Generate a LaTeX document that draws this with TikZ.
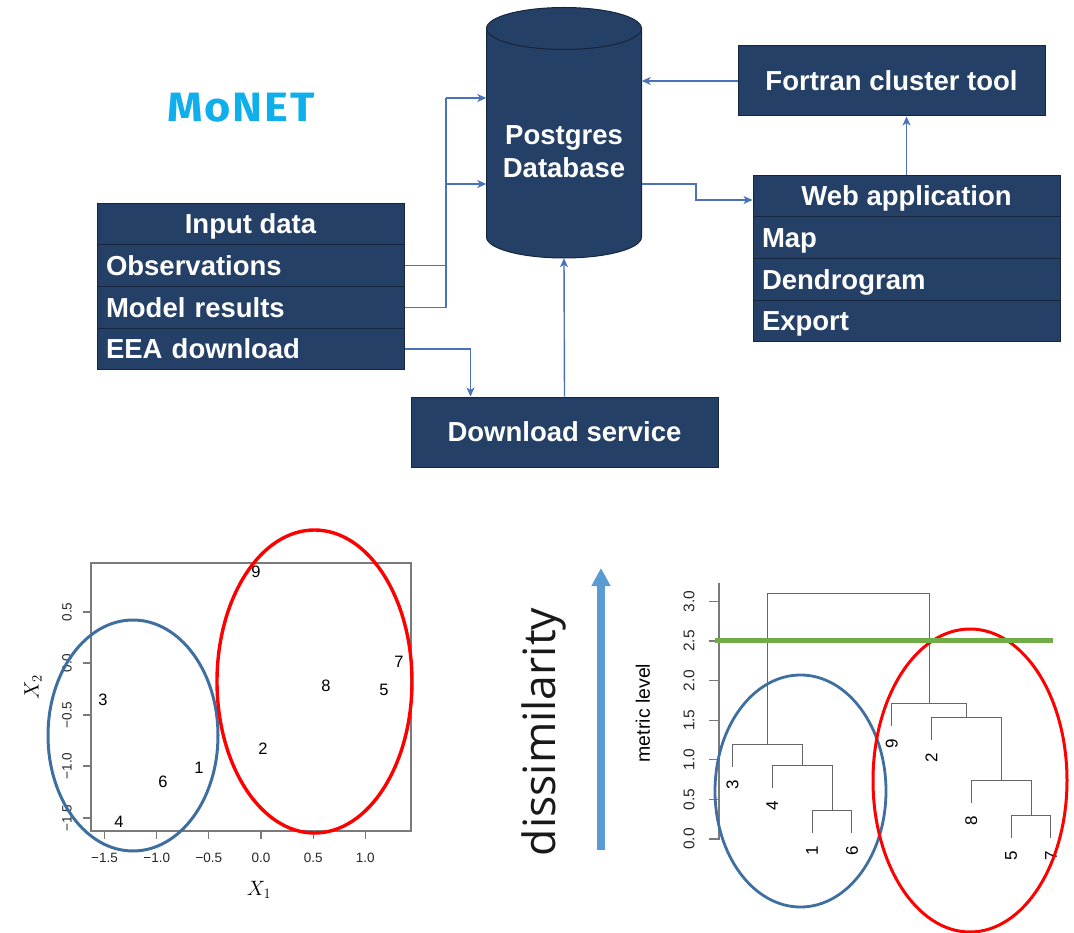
\documentclass[tikz,border=0pt]{standalone}
\usepackage{fontspec}
\setmainfont{Liberation Sans}
\newfontfamily\titlefont{Fira Sans}[LetterSpace=4]
\newfontfamily\bigfont{Open Sans}
\usetikzlibrary{arrows.meta,calc}
\definecolor{navy}{HTML}{254066}
\definecolor{navyedge}{HTML}{17263D}
\definecolor{conn}{HTML}{4A72B8}
\definecolor{monet}{HTML}{0FAFEB}
\definecolor{plotgrey}{HTML}{7A7A7A}
\definecolor{clublue}{HTML}{3F6FA0}
\definecolor{clured}{HTML}{FF0000}
\definecolor{cutgreen}{HTML}{70AD47}
\definecolor{arrowblue}{HTML}{5B9BD5}
\begin{document}
\begin{tikzpicture}[x=1pt,y=-1pt,
  boxfont/.style={font=\fontsize{27.5}{33}\selectfont\bfseries, text=white},
  rowbox/.style={boxfont, rectangle, fill=navy, draw=navyedge, line width=1pt,
    minimum width=307pt, minimum height=41.7pt, inner sep=0pt,
    text height=19.7pt, text depth=0pt},
  itembox/.style={rowbox, text width=289pt, align=left},
  bigbox/.style={boxfont, rectangle, fill=navy, draw=navyedge, line width=1pt,
    minimum width=307pt, minimum height=70pt, inner sep=0pt,
    text height=19.7pt, text depth=0pt},
  conn/.style={draw=conn, line width=1.4pt},
  arr/.style={conn, -{Stealth[length=9pt,width=8pt,inset=2.5pt]}},
  framel/.style={draw=plotgrey, line width=1.1pt},
  rlab/.style={font=\fontsize{16.5}{18}\selectfont, inner sep=0pt},
  ticklab/.style={font=\fontsize{13.5}{15}\selectfont, inner sep=0pt, text=black!85},
  dtick/.style={font=\fontsize{15.5}{17}\selectfont, inner sep=0pt, rotate=90, text=black!85},
  leaf/.style={font=\fontsize{17}{19}\selectfont, inner sep=0pt, rotate=90, anchor=east},
  dline/.style={draw=black!60, line width=1pt},
  bluering/.style={draw=clublue, line width=3pt},
  redring/.style={draw=clured, line width=3.4pt}
]
\useasboundingbox (0,0) rectangle (1074,933);

% ---------- title ----------
\node[font=\fontsize{41}{44}\selectfont\titlefont\bfseries, text=monet, inner sep=0pt] (title) at (241,108) {\scalebox{1.1}[1]{MoNET}};

% ---------- Postgres cylinder ----------
\fill[navy] (486.5,28.5) rectangle (641.5,237);
\fill[navy] (564,237) ellipse[x radius=77.5, y radius=21];
\draw[navyedge, line width=1pt] (486.5,28.5) -- (486.5,237)
  arc[start angle=180, end angle=0, x radius=77.5, y radius=21] -- (641.5,28.5);
\draw[navyedge, fill=navy, line width=1pt] (564,28.5) ellipse[x radius=77.5, y radius=21];
\node[minimum width=155pt, minimum height=250pt, inner sep=0pt] (db) at (564,133) {};
\node[boxfont, align=center, inner sep=0pt] (dbtext) at (564,151.5) {Postgres\\Database};

% ---------- Input data table ----------
\node[rowbox, align=center] (inhead) at (250.5,224) {Input data};
\node[itembox] (obs) at (250.5,265.7) {Observations};
\node[itembox] (model) at (250.5,307.4) {Model results};
\node[itembox] (eea) at (250.5,349.1) {EEA download};

% ---------- Web application table ----------
\node[rowbox, align=center] (webhead) at (906.5,195.9) {Web application};
\node[itembox] (map) at (906.5,237.6) {Map};
\node[itembox] (dendro) at (906.5,279.3) {Dendrogram};
\node[itembox] (export) at (906.5,321) {Export};

% ---------- other boxes ----------
\node[bigbox] (fortran) at (891.5,81) {Fortran cluster tool};
\node[bigbox] (dl) at (564.5,432) {Download service};

% ---------- connectors ----------
\coordinate (bustop) at (446,98);
\coordinate (busmid) at (446,184);
\draw[conn] (obs.east) -- (obs.east -| bustop);
\draw[conn] (model.east) -| (bustop);
\draw[arr] (bustop) -- (bustop -| db.west);
\draw[arr] (busmid) -- (busmid -| db.west);
\draw[arr] (fortran.west) -- (fortran.west -| db.east);
\coordinate (dbout) at (641.5,184);
\coordinate (elbow) at (696,200);
\draw[arr] (dbout) -| (elbow) -- (elbow -| webhead.west);
\draw[arr] (webhead.north) -- (webhead.north |- fortran.south);
\draw[arr] (eea.east) -| ($(dl.north west)+(60,0)$);
\draw[arr] (dl.north) -- (db.south);

% ---------- scatter plot ----------
\draw[framel] (91,563) rectangle (411,831);
\foreach \xv/\lab in {104.5/−1.5, 156.7/−1.0, 208.9/−0.5, 261/0.0, 313.2/0.5, 365.3/1.0} {
  \draw[framel] (\xv,831) -- (\xv,839);
  \node[ticklab] at (\xv,858) {\lab};
}
\foreach \yv/\lab in {612/0.5, 663/0.0, 715/−0.5, 766/−1.0, 818/−1.5} {
  \draw[framel] (91,\yv) -- (83,\yv);
  \node[ticklab, rotate=90] at (67,\yv) {\lab};
}
\node[font=\fontsize{20}{22}\selectfont, inner sep=0pt] (xone) at (259,890) {$X_1$};
\node[font=\fontsize{20}{22}\selectfont, inner sep=0pt, rotate=90] (xtwo) at (33,687) {$X_2$};
\node[rlab] (p9) at (256,572) {9};
\node[rlab] (p7) at (399,662) {7};
\node[rlab] (p8) at (326,686) {8};
\node[rlab] (p5) at (384,690) {5};
\node[rlab] (p3) at (103,700) {3};
\node[rlab] (p2) at (263,749) {2};
\node[rlab] (p1) at (199,768) {1};
\node[rlab] (p6) at (163,782) {6};
\node[rlab] (p4) at (119,822) {4};
\draw[bluering] (133,735.5) ellipse[x radius=85, y radius=115.5];
\draw[redring] (314.5,681.5) ellipse[x radius=97.5, y radius=151.5];

% ---------- dissimilarity arrow ----------
\node[font=\fontsize{44.5}{50}\selectfont\bigfont, rotate=90, inner sep=0pt, text=black!90] (dissim) at (544,732) {dissimilarity};
\draw[arrowblue, line width=7.6pt, -{Triangle[length=18pt,width=18pt]}] (601,850) -- (601,568);

% ---------- dendrogram ----------
\draw[framel] (719,583) -- (719,839.5);
\foreach \yv/\lab in {839/0.0, 799.4/0.5, 759.8/1.0, 720.2/1.5, 680.6/2.0, 641/2.5, 601.4/3.0} {
  \draw[framel] (719,\yv) -- (709,\yv);
  \node[dtick] at (689,\yv) {\lab};
}
\node[font=\fontsize{19.5}{22}\selectfont, rotate=90, inner sep=0pt] (mlevel) at (643,713) {metric level};

% merges: left leg |- horizontal -- right leg
\draw[dline] (812.1,832.5) |- (851.9,810) -- (851.9,832.5);   % 1-6
\draw[dline] (772.3,787.5) |- (832,765) -- (832,810);         % 4-(1,6)
\draw[dline] (732.5,766.5) |- (802.15,744) -- (802.15,765);   % 3-(4,1,6)
\draw[dline] (1011.1,837.5) |- (1050.9,815) -- (1050.9,837.5); % 5-7
\draw[dline] (971.3,802.5) |- (1031,780) -- (1031,815);       % 8-(5,7)
\draw[dline] (931.5,739.5) |- (1001.15,717) -- (1001.15,780); % 2-(8,5,7)
\draw[dline] (891.7,725.5) |- (966.3,703) -- (966.3,717);     % 9-(2,8,5,7)
\draw[dline] (767.3,744) |- (929,593) -- (929,703);           % top

\node[leaf] (l3) at (732.5,780) {3};
\node[leaf] (l4) at (772.3,801) {4};
\node[leaf] (l1) at (812.1,846) {1};
\node[leaf] (l6) at (851.9,846) {6};
\node[leaf] (l9) at (891.7,739) {9};
\node[leaf] (l2) at (931.5,753) {2};
\node[leaf] (l8) at (971.3,816) {8};
\node[leaf] (l5) at (1011.1,851) {5};
\node[leaf] (l7) at (1050.9,851) {7};

\draw[bluering, line width=2.8pt] (800.5,791) ellipse[x radius=85.5, y radius=116];
\draw[redring, line width=3pt] (970,780.5) ellipse[x radius=97, y radius=151.5];
\draw[cutgreen, line width=5.5pt] (715,640.7) -- (1053,640.7);
\end{tikzpicture}
\end{document}
